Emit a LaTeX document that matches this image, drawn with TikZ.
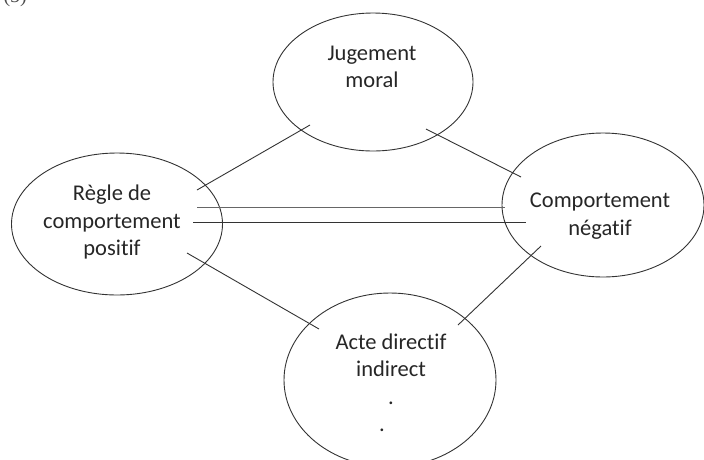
\documentclass[tikz,border=0pt]{standalone}
\usepackage{fontspec}
\setmainfont{Carlito}[Ligatures=NoCommon]
\newfontfamily\numfont{Liberation Serif}
\usetikzlibrary{shapes.geometric,positioning}

\begin{document}
\begin{tikzpicture}[x=1pt, y=-1pt,
    bubble/.style={draw=black!80, line width=0.9pt, ellipse, inner sep=0pt},
    txt/.style={align=center, text=black!85, font=\fontsize{22.5}{27.5}\selectfont},
    link/.style={draw=black!80, line width=0.9pt}]
    \useasboundingbox (0,0) rectangle (704,459);

    \node [anchor=base west, text=black!70, font=\numfont\fontsize{20}{24}\selectfont] (num) at (0,2) {(5)};

    % ellipses
    \node [bubble, minimum width=200pt, minimum height=138pt] (moral) at (373,82) {};
    \node [bubble, minimum width=211pt, minimum height=142pt] (regle) at (117,224) {};
    \node [bubble, minimum width=202pt, minimum height=144pt] (negatif) at (603,205) {};
    \node [bubble, minimum width=212pt, minimum height=174pt] (acte) at (390,380) {};

    % texts
    \node [txt] (moraltxt) at (372,67) {Jugement\\moral};
    \node [txt] (regletxt) at (112,222) {Règle de\\comportement\\positif};
    \node [txt] (negtxt) at (600,216) {Comportement\\négatif};
    \node [txt] (actetxt) at (391,383) {Acte directif\\indirect\\.\hspace*{18pt}\\.\hspace*{18pt}};

    % links
    \draw [link] ([shift={(80,-34)}]regle.center) -- ([shift={(-63,43)}]moral.center);
    \draw [link] ([shift={(53,47)}]moral.center) -- ([shift={(-82,-28)}]negatif.center);
    \draw [link, draw=black!60] ([shift={(80,-17)}]regle.center) -- ([shift={(-98,2)}]negatif.center);
    \draw [link] ([shift={(76,-2)}]regle.center) -- ([shift={(-77,17)}]negatif.center);
    \draw [link] ([shift={(70,29)}]regle.center) -- ([shift={(-71,-51)}]acte.center);
    \draw [link] ([shift={(-62,41)}]negatif.center) -- ([shift={(68,-55)}]acte.center);
\end{tikzpicture}
\end{document}
